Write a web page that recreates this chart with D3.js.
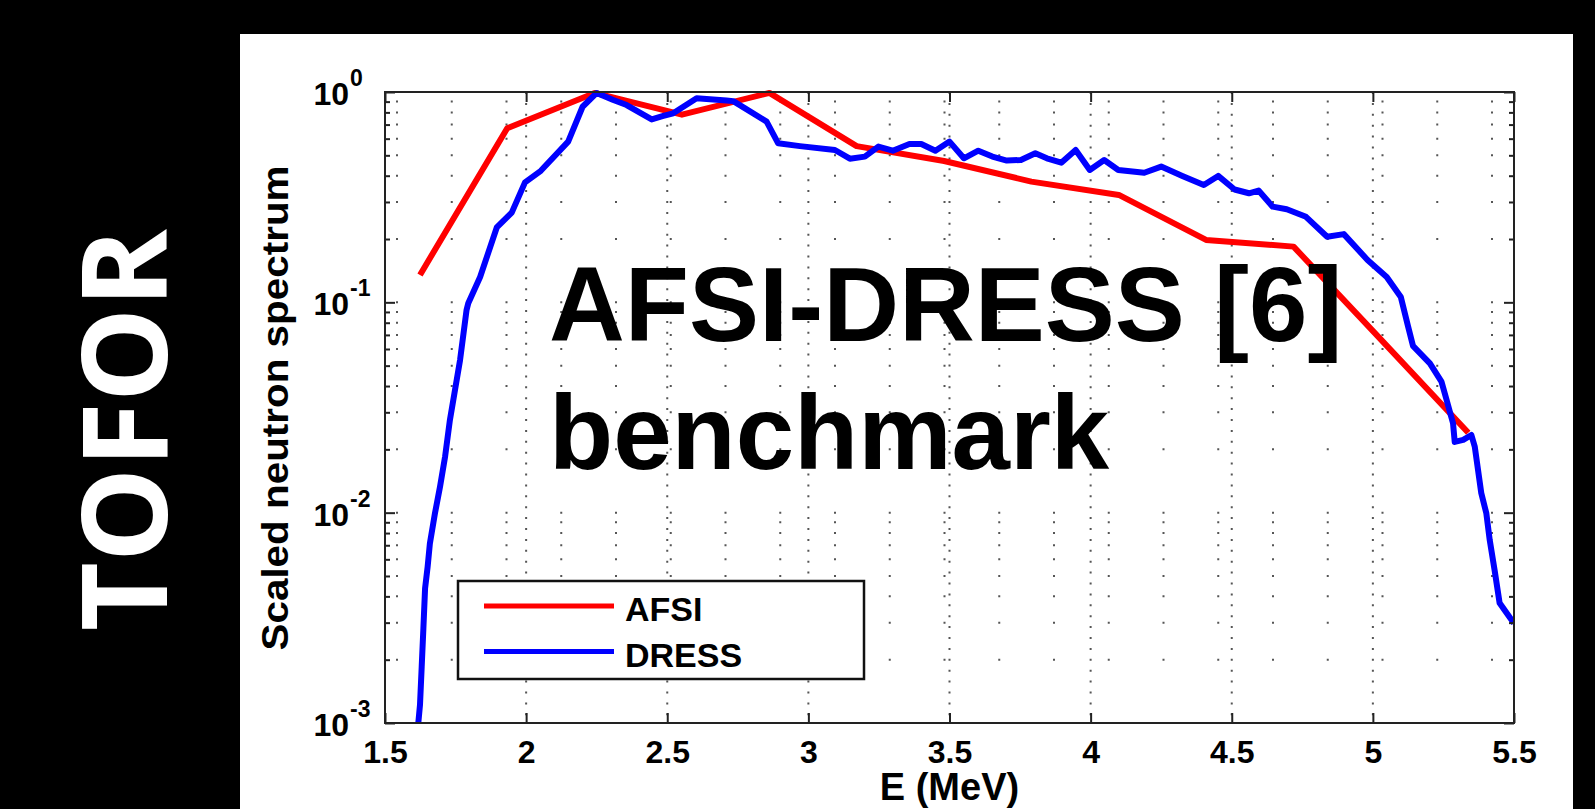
<!DOCTYPE html>
<html lang="en">
<head>
<meta charset="utf-8">
<title>TOFOR - AFSI-DRESS benchmark</title>
<style>
  body { margin: 0; background: #000; }
  svg { display: block; }
  text { font-family: "Liberation Sans", Arial, Helvetica, sans-serif; }
</style>
</head>
<body>
<script src="https://d3js.org/d3.v7.min.js"></script>
<script>
// AFSI spectrum (coarse grid)
var afsiE = [1.624, 1.933, 2.243, 2.552, 2.862, 3.171, 3.481, 3.790, 4.100, 4.409, 4.719, 5.028, 5.338];
var afsiY = [0.135, 0.672, 0.99, 0.78, 0.99, 0.553, 0.47, 0.375, 0.324, 0.198, 0.184, 0.0667, 0.024];

// DRESS spectrum
var dressE = [1.618, 1.624, 1.630, 1.636, 1.642, 1.651, 1.659, 1.677, 1.695, 1.713, 1.730, 1.748, 1.766,
              1.789, 1.795, 1.837, 1.896, 1.949, 1.996, 2.052, 2.149, 2.200, 2.250, 2.309, 2.356, 2.445,
              2.486, 2.521, 2.604, 2.710, 2.734, 2.852, 2.893, 2.970, 3.094, 3.147, 3.200, 3.248, 3.299,
              3.358, 3.400, 3.450, 3.500, 3.551, 3.602, 3.652, 3.703, 3.753, 3.804, 3.845, 3.896, 3.947,
              3.997, 4.048, 4.098, 4.190, 4.250, 4.325, 4.401, 4.452, 4.510, 4.561, 4.595, 4.645, 4.695,
              4.763, 4.838, 4.897, 4.981, 5.049, 5.099, 5.125, 5.142, 5.202, 5.243, 5.261, 5.284, 5.290,
              5.320, 5.349, 5.361, 5.384, 5.402, 5.414, 5.432, 5.449, 5.479, 5.500];
var dressY = [0.001, 0.00122, 0.00185, 0.00282, 0.00437, 0.00553, 0.00714, 0.00993, 0.0133, 0.0185, 0.0276, 0.0383, 0.0532,
              0.092, 0.099, 0.132, 0.227, 0.267, 0.372, 0.422, 0.581, 0.851, 0.99, 0.916, 0.867, 0.741,
              0.769, 0.792, 0.933, 0.91, 0.905, 0.723, 0.57, 0.553, 0.53, 0.482, 0.493, 0.55, 0.526,
              0.566, 0.566, 0.526, 0.581, 0.484, 0.526, 0.493, 0.472, 0.475, 0.511, 0.484, 0.461, 0.53,
              0.426, 0.475, 0.426, 0.413, 0.442, 0.399, 0.361, 0.399, 0.344, 0.33, 0.34, 0.285, 0.277,
              0.255, 0.205, 0.211, 0.159, 0.132, 0.106, 0.0766, 0.0621, 0.0513, 0.042, 0.0344, 0.0266, 0.0217,
              0.0222, 0.0234, 0.0206, 0.0124, 0.00993, 0.00741, 0.00525, 0.00372, 0.00326, 0.00298];

var seriesNames = ["AFSI", "DRESS"];
var seriesColors = ["#ff0000", "#0000ff"];

var xTicks = [1.5, 2, 2.5, 3, 3.5, 4, 4.5, 5, 5.5];
var xTickLabels = ["1.5", "2", "2.5", "3", "3.5", "4", "4.5", "5", "5.5"];
var yTicks = [1, 0.1, 0.01, 0.001];
var yExponents = ["0", "-1", "-2", "-3"];

var xTitle = "E (MeV)",
    yTitle = "Scaled neutron spectrum",
    sideTitle = "TOFOR",
    overlay = ["AFSI-DRESS [6]", "benchmark"];

// minor log ticks 2..9 per decade
var yMinor = [];
[0.001, 0.01, 0.1].forEach(function(dec) {
    for (var m = 2; m <= 9; m++) yMinor.push(m * dec);
});

var W = 1595, H = 809;
var plot = {left: 385, top: 92, right: 1514, bottom: 723};

var svg = d3.select("body").append("svg")
    .attr("width", W)
    .attr("height", H);

svg.append("rect").attr("width", W).attr("height", H).attr("fill", "#000");
svg.append("rect")
    .attr("x", 240).attr("y", 34)
    .attr("width", 1333).attr("height", H - 34)
    .attr("fill", "#fff");

var x = d3.scaleLinear().domain([1.5, 5.5]).range([plot.left, plot.right]);
var y = d3.scaleLog().domain([0.001, 1]).range([plot.bottom, plot.top]);

// grid
var grid = svg.append("g").attr("stroke", "#555").attr("stroke-width", 2);
grid.selectAll("line.vg")
    .data(xTicks.slice(1, -1))
    .join("line")
    .attr("class", "vg")
    .attr("x1", d => x(d)).attr("x2", d => x(d))
    .attr("y1", plot.top).attr("y2", plot.bottom)
    .attr("stroke-dasharray", "2,8.9");
grid.selectAll("line.hg")
    .data(yMinor.concat([0.1, 0.01]))
    .join("line")
    .attr("class", "hg")
    .attr("x1", plot.left).attr("x2", plot.right)
    .attr("y1", d => y(d)).attr("y2", d => y(d))
    .attr("stroke-dasharray", "2,52.75")
    .attr("stroke-dashoffset", 43.75);

// curves
svg.append("clipPath").attr("id", "clip")
    .append("rect")
    .attr("x", plot.left).attr("y", plot.top - 4)
    .attr("width", plot.right - plot.left).attr("height", plot.bottom - plot.top + 4);

var line = d3.line()
    .x(d => x(d[0]))
    .y(d => y(d[1]));

var series = [d3.zip(afsiE, afsiY), d3.zip(dressE, dressY)];
svg.append("g").attr("clip-path", "url(#clip)")
    .selectAll("path")
    .data(series)
    .join("path")
    .attr("d", line)
    .attr("fill", "none")
    .attr("stroke", (d, i) => seriesColors[i])
    .attr("stroke-width", 6)
    .attr("stroke-linejoin", "round");

// axes
function clean(g) {
    g.select(".domain").remove();
    g.selectAll(".tick line").attr("stroke-width", 2);
    g.attr("color", "#222");
}

var xAxis = svg.append("g")
    .attr("transform", `translate(0,${plot.bottom})`)
    .call(d3.axisBottom(x).tickValues(xTicks).tickSize(-10)
        .tickFormat((d, i) => xTickLabels[i]))
    .call(clean);
xAxis.selectAll("text")
    .attr("y", 17)
    .attr("dy", "0.71em")
    .attr("fill", "#000")
    .style("font-size", "32px")
    .style("font-weight", "bold");

svg.append("g")
    .attr("transform", `translate(0,${plot.top})`)
    .call(d3.axisTop(x).tickValues(xTicks).tickSize(-10).tickFormat(""))
    .call(clean);

[["left", plot.left, d3.axisLeft], ["right", plot.right, d3.axisRight]].forEach(function(s) {
    svg.append("g")
        .attr("transform", `translate(${s[1]},0)`)
        .call(s[2](y).tickValues(yTicks).tickSize(-10).tickFormat(""))
        .call(clean);
    svg.append("g")
        .attr("transform", `translate(${s[1]},0)`)
        .call(s[2](y).tickValues(yMinor).tickSize(-5).tickFormat(""))
        .call(clean);
});

// y tick labels 10^n
var ylab = svg.append("g").attr("fill", "#000").style("font-weight", "bold");
ylab.selectAll("text.base")
    .data(yTicks)
    .join("text")
    .attr("class", "base")
    .attr("x", 349)
    .attr("y", d => y(d) + 13)
    .attr("text-anchor", "end")
    .style("font-size", "32px")
    .text("10");
ylab.selectAll("text.exp")
    .data(yTicks)
    .join("text")
    .attr("class", "exp")
    .attr("x", 350)
    .attr("y", d => y(d) - 6)
    .style("font-size", "23px")
    .text((d, i) => yExponents[i]);

// plot box
svg.append("rect")
    .attr("x", plot.left).attr("y", plot.top)
    .attr("width", plot.right - plot.left).attr("height", plot.bottom - plot.top)
    .attr("fill", "none")
    .attr("stroke", "#222")
    .attr("stroke-width", 2);

// axis titles
svg.append("text")
    .attr("x", (plot.left + plot.right) / 2)
    .attr("y", 800)
    .attr("text-anchor", "middle")
    .style("font-size", "38px")
    .style("font-weight", "bold")
    .text(xTitle);

svg.append("text")
    .attr("transform", "translate(288,408) rotate(-90)")
    .attr("text-anchor", "middle")
    .attr("textLength", 485)
    .attr("lengthAdjust", "spacingAndGlyphs")
    .style("font-size", "36px")
    .style("font-weight", "bold")
    .text(yTitle);

// legend
var legend = svg.append("g");
legend.append("rect")
    .attr("x", 458).attr("y", 581)
    .attr("width", 406).attr("height", 98)
    .attr("fill", "#fff")
    .attr("stroke", "#111")
    .attr("stroke-width", 2.5);
var item = legend.selectAll("g.item")
    .data(seriesNames)
    .join("g")
    .attr("class", "item")
    .attr("transform", (d, i) => `translate(0,${606 + i * 45.5})`);
item.append("line")
    .attr("x1", 484).attr("x2", 614)
    .attr("stroke", (d, i) => seriesColors[i])
    .attr("stroke-width", 5);
item.append("text")
    .attr("x", 625)
    .attr("y", 15)
    .style("font-size", "34px")
    .style("font-weight", "bold")
    .text(d => d);

// overlay annotation
svg.append("g")
    .selectAll("text")
    .data(overlay)
    .join("text")
    .attr("x", 549)
    .attr("y", (d, i) => 341 + i * 128)
    .style("font-size", "105px")
    .style("font-weight", "bold")
    .attr("fill", "#000")
    .text(d => d);

// side title
svg.append("text")
    .attr("transform", "translate(167,430) rotate(-90)")
    .attr("text-anchor", "middle")
    .attr("fill", "#fff")
    .style("font-family", "'Open Sans', 'Noto Sans', sans-serif")
    .style("font-size", "119px")
    .style("font-weight", "bold")
    .text(sideTitle);
</script>
</body>
</html>
